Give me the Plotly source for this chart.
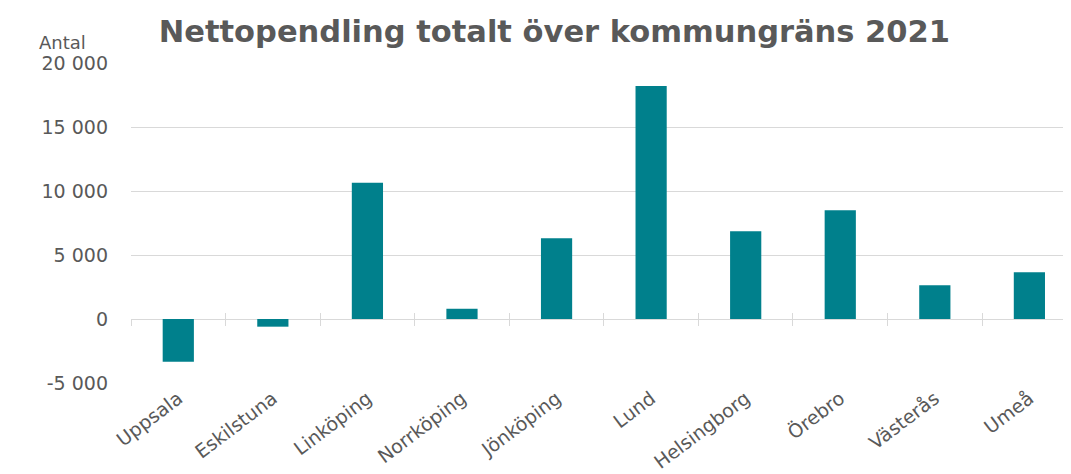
import plotly.graph_objects as go

kommuner = ["Uppsala", "Eskilstuna", "Linköping", "Norrköping", "Jönköping",
            "Lund", "Helsingborg", "Örebro", "Västerås", "Umeå"]
nettopendling = [-3340, -600, 10650, 800, 6300, 18200, 6850, 8500, 2630, 3650]
ytick_vals = [-5000, 0, 5000, 10000, 15000, 20000]
ytick_text = ["-5 000", "0", "5 000", "10 000", "15 000", "20 000"]
title_text = "Nettopendling totalt över kommungräns 2021"
y_title = "Antal"

BAR = "#00808C"
TXT = "#595959"
GRID = "#d9d9d9"
FONT = "DejaVu Sans, Arial, sans-serif"

fig = go.Figure()
fig.add_trace(go.Bar(x=kommuner, y=nettopendling, marker=dict(color=BAR, line=dict(width=0)),
                     width=0.33, hoverinfo="x+y"))
# invisible traces carrying the category tick marks drawn across the zero line
for ax in ("x2", "x3"):
    fig.add_trace(go.Scatter(x=kommuner, y=nettopendling, xaxis=ax, mode="none",
                             hoverinfo="skip", showlegend=False))

xr = [-0.5, 9.44]
zero_tick_axis = dict(type="category", range=xr, overlaying="x", anchor="free", position=0.2,
                      side="bottom", showgrid=False, showline=False, zeroline=False,
                      showticklabels=False, tickson="boundaries",
                      ticklen=6, tickcolor=GRID, tickwidth=1)
fig.update_layout(
    width=1063, height=466,
    margin=dict(l=123, r=0, t=55, b=91),
    paper_bgcolor="white", plot_bgcolor="white",
    showlegend=False,
    bargap=0.67,
    title=dict(text="<b>" + title_text + "</b>", x=0.514, xanchor="center", y=0.95, yanchor="middle",
               font=dict(family=FONT, size=30.5, color=TXT)),
    xaxis=dict(type="category", range=xr, showgrid=False, showline=False, zeroline=False,
               automargin=False,
               tickangle=-37, tickfont=dict(family=FONT, size=19, color=TXT), ticks=""),
    xaxis2=dict(zero_tick_axis, ticks="outside"),
    xaxis3=dict(zero_tick_axis, ticks="inside"),
    yaxis=dict(range=[-5000, 20000], tickvals=ytick_vals, ticktext=ytick_text,
               showgrid=True, gridcolor=GRID, gridwidth=1, zeroline=True, zerolinecolor=GRID,
               zerolinewidth=1, showline=False, ticks="", ticklabelstandoff=22, automargin=False,
               tickfont=dict(family=FONT, size=19, color=TXT)),
    annotations=[dict(text=y_title, xref="paper", yref="paper", x=-0.073, y=1.0,
                      xanchor="center", yanchor="bottom", showarrow=False, yshift=8,
                      font=dict(family=FONT, size=18, color=TXT))],
)

fig.write_html("out.html")
